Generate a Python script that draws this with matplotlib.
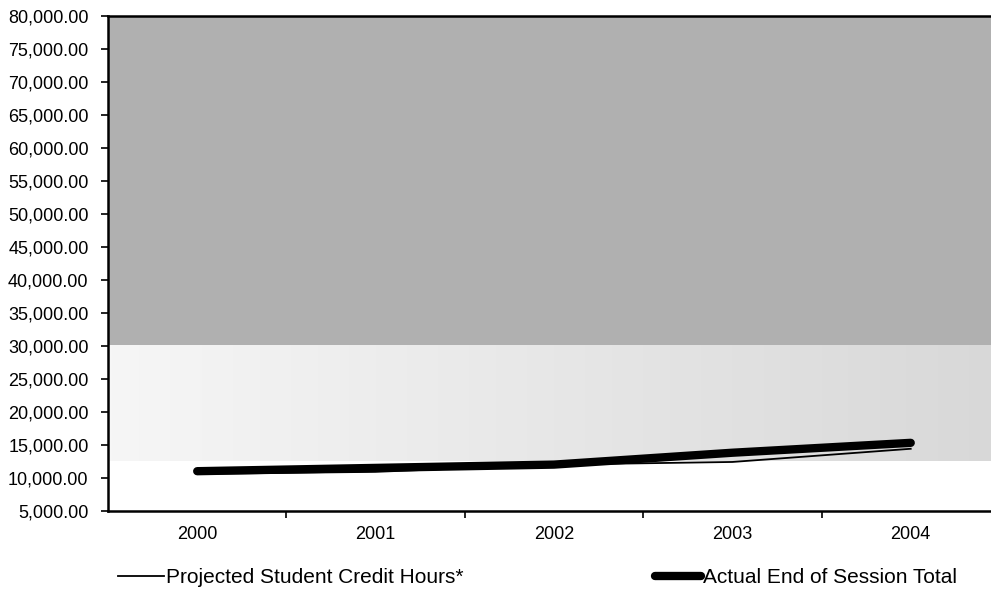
import numpy as np
import matplotlib.pyplot as plt
from matplotlib.colors import LinearSegmentedColormap
from matplotlib.ticker import FuncFormatter, FixedLocator

plt.rcParams['font.family'] = ['Liberation Sans', 'DejaVu Sans']

# ----------------------------
# Data
# ----------------------------
years     = ["2000", "2001", "2002", "2003", "2004"]
projected = [10600, 10900, 12000, 12400, 14400]   # Projected Student Credit Hours*
actual    = [11000, 11500, 12000, 13800, 15300]   # Actual End of Session Total

x = np.arange(len(years))

fig = plt.figure(figsize=(9.91, 5.96), dpi=100)
ax = fig.add_axes([0.109, 0.143, 0.9, 0.830])

ax.set_xlim(-0.5, len(years) - 0.5)
ax.set_ylim(5000, 80000)

# shaded plot-area fill (upper dark band, lighter lower band)
ax.axhspan(30000, 80000, color="#b0b0b0", zorder=0, lw=0)
band = LinearSegmentedColormap.from_list("band", ["#f6f6f6", "#d8d8d8"])
ax.imshow(np.linspace(0.0, 1.0, 200).reshape(1, -1), extent=(-0.5, 4.5, 12500, 30000),
          aspect="auto", cmap=band, zorder=0.5)

ax.plot(x, projected, color="black", linewidth=1.3, zorder=3,
        label="Projected Student Credit Hours*")
ax.plot(x, actual, color="black", linewidth=6.0, solid_capstyle="round",
        zorder=4, label="Actual End of Session Total")

# axes styling
ax.yaxis.set_major_locator(FixedLocator(np.arange(5000, 80001, 5000)))
ax.yaxis.set_major_formatter(FuncFormatter(lambda v, p: f"{v:,.2f}"))
ax.set_xticks(x)
ax.set_xticklabels(years)
ax.xaxis.set_minor_locator(FixedLocator(x[:-1] + 0.5))
ax.tick_params(axis="x", which="major", length=0, pad=11, labelsize=13)
ax.tick_params(axis="x", which="minor", length=5, width=1.2, direction="out")
ax.tick_params(axis="y", length=5, width=1.2, direction="out", pad=9, labelsize=13)

for s in ["left", "bottom", "top"]:
    ax.spines[s].set_linewidth(1.8)
ax.spines["right"].set_visible(False)

fig.legend(loc="center", bbox_to_anchor=(0.5424, 0.031), ncol=2, frameon=False,
           fontsize=15, handlelength=2.2, handletextpad=0.1, columnspacing=9.2)

fig.savefig("out.png", dpi=100)
